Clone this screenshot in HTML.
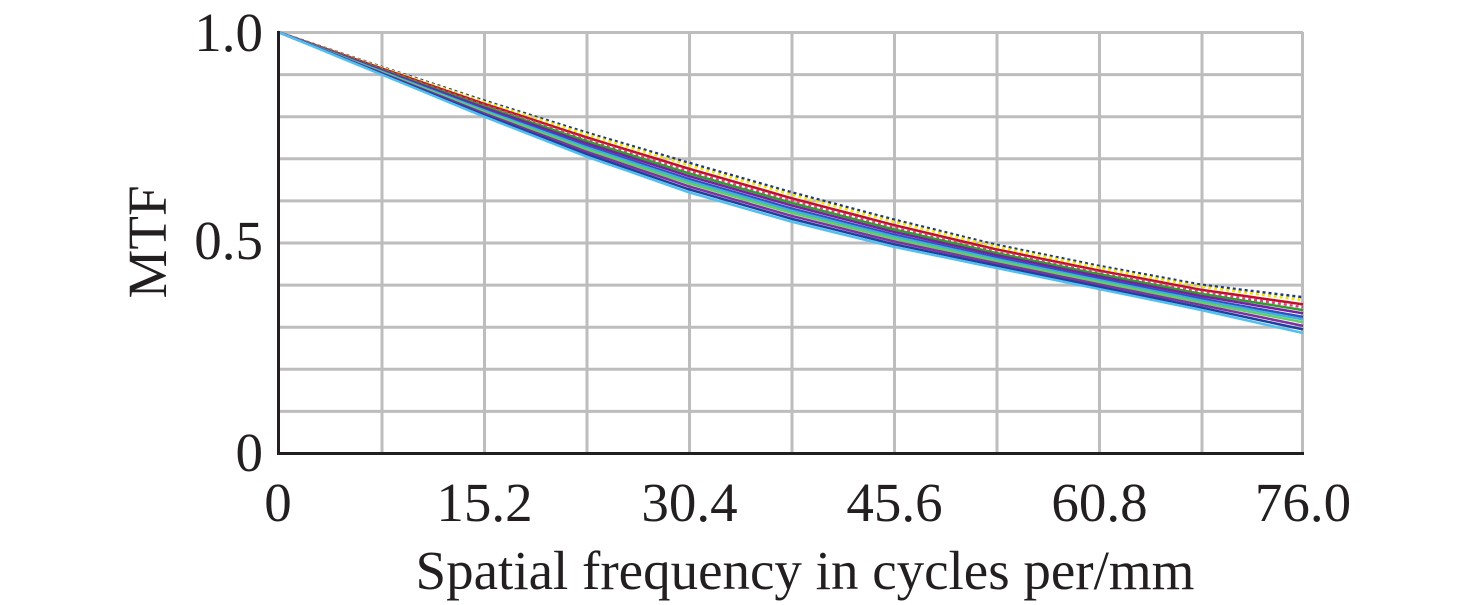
<!DOCTYPE html>
<html><head><meta charset="utf-8"><style>
html,body{margin:0;padding:0;background:#fff;}
svg{display:block;}
text{font-family:"Liberation Serif",serif;fill:#231f20;}
</style></head><body>
<svg id="s" width="1476" height="605" viewBox="0 0 1476 605" xmlns="http://www.w3.org/2000/svg">
<g stroke="#bdbdbd" stroke-width="3" fill="none">
<line x1="278" y1="32.5" x2="1303" y2="32.5"/>
<line x1="278" y1="74.6" x2="1303" y2="74.6"/>
<line x1="278" y1="116.7" x2="1303" y2="116.7"/>
<line x1="278" y1="158.8" x2="1303" y2="158.8"/>
<line x1="278" y1="200.9" x2="1303" y2="200.9"/>
<line x1="278" y1="243" x2="1303" y2="243"/>
<line x1="278" y1="285.1" x2="1303" y2="285.1"/>
<line x1="278" y1="327.2" x2="1303" y2="327.2"/>
<line x1="278" y1="369.3" x2="1303" y2="369.3"/>
<line x1="278" y1="411.4" x2="1303" y2="411.4"/>
<line x1="382" y1="32" x2="382" y2="453"/>
<line x1="484.5" y1="32" x2="484.5" y2="453"/>
<line x1="587" y1="32" x2="587" y2="453"/>
<line x1="689.5" y1="32" x2="689.5" y2="453"/>
<line x1="792" y1="32" x2="792" y2="453"/>
<line x1="894.5" y1="32" x2="894.5" y2="453"/>
<line x1="997" y1="32" x2="997" y2="453"/>
<line x1="1099.5" y1="32" x2="1099.5" y2="453"/>
<line x1="1202" y1="32" x2="1202" y2="453"/>
<line x1="1302.5" y1="32" x2="1302.5" y2="453"/>
</g>
<g id="curves" fill="none" stroke-width="2.5"></g>
<g stroke="#231f20" stroke-width="3">
<line x1="278.5" y1="31" x2="278.5" y2="454"/>
<line x1="277" y1="453.5" x2="1304" y2="453.5"/>
</g>
<g font-size="55">
<text x="263" y="51" text-anchor="end">1.0</text>
<text x="263" y="259" text-anchor="end">0.5</text>
<text x="263" y="471" text-anchor="end">0</text>
<text x="278" y="521" text-anchor="middle">0</text>
<text x="484.5" y="521" text-anchor="middle">15.2</text>
<text x="689.5" y="521" text-anchor="middle">30.4</text>
<text x="894.5" y="521" text-anchor="middle">45.6</text>
<text x="1099.5" y="521" text-anchor="middle">60.8</text>
<text x="1303" y="521" text-anchor="middle">76.0</text>
<text x="805" y="589" text-anchor="middle">Spatial frequency in cycles per/mm</text>
<text transform="translate(166,242) rotate(-90)" text-anchor="middle">MTF</text>
</g>
</svg>
<script>
var top_=[1,.918,.838,.762,.69,.62,.555,.495,.445,.4,.37];
var bot=[1,.9,.8,.705,.62,.55,.49,.44,.39,.34,.285];
var cols=["#1f3a7a","#f2e600","#c0102a","#e0408a","#2aa02a","#7a1fa0","#3050c0","#40b0e0","#60d060","#8030a0","#2040a0","#50c0f0"];
var ts=[0,.08,.2,.28,.36,.45,.55,.62,.7,.8,.9,1];
var g=document.getElementById('curves'),h='';
for(var k=0;k<cols.length;k++){var t=ts[k],p=[];
for(var i=0;i<=50;i++){var f=i/50*10,a=Math.floor(f),b=Math.min(10,a+1),u=f-a;
var m1=top_[a]*(1-u)+top_[b]*u,m2=bot[a]*(1-u)+bot[b]*u;var m=m1*(1-t)+m2*t;
p.push((278+f/10*1025).toFixed(1)+','+(453-m*421).toFixed(1));}
var dash=(k==0||k==1||k==3)?' stroke-dasharray="3 3"':'';
h+='<polyline points="'+p.join(' ')+'" stroke="'+cols[k]+'"'+dash+'/>';}
g.innerHTML=h;
</script>
</body></html>
